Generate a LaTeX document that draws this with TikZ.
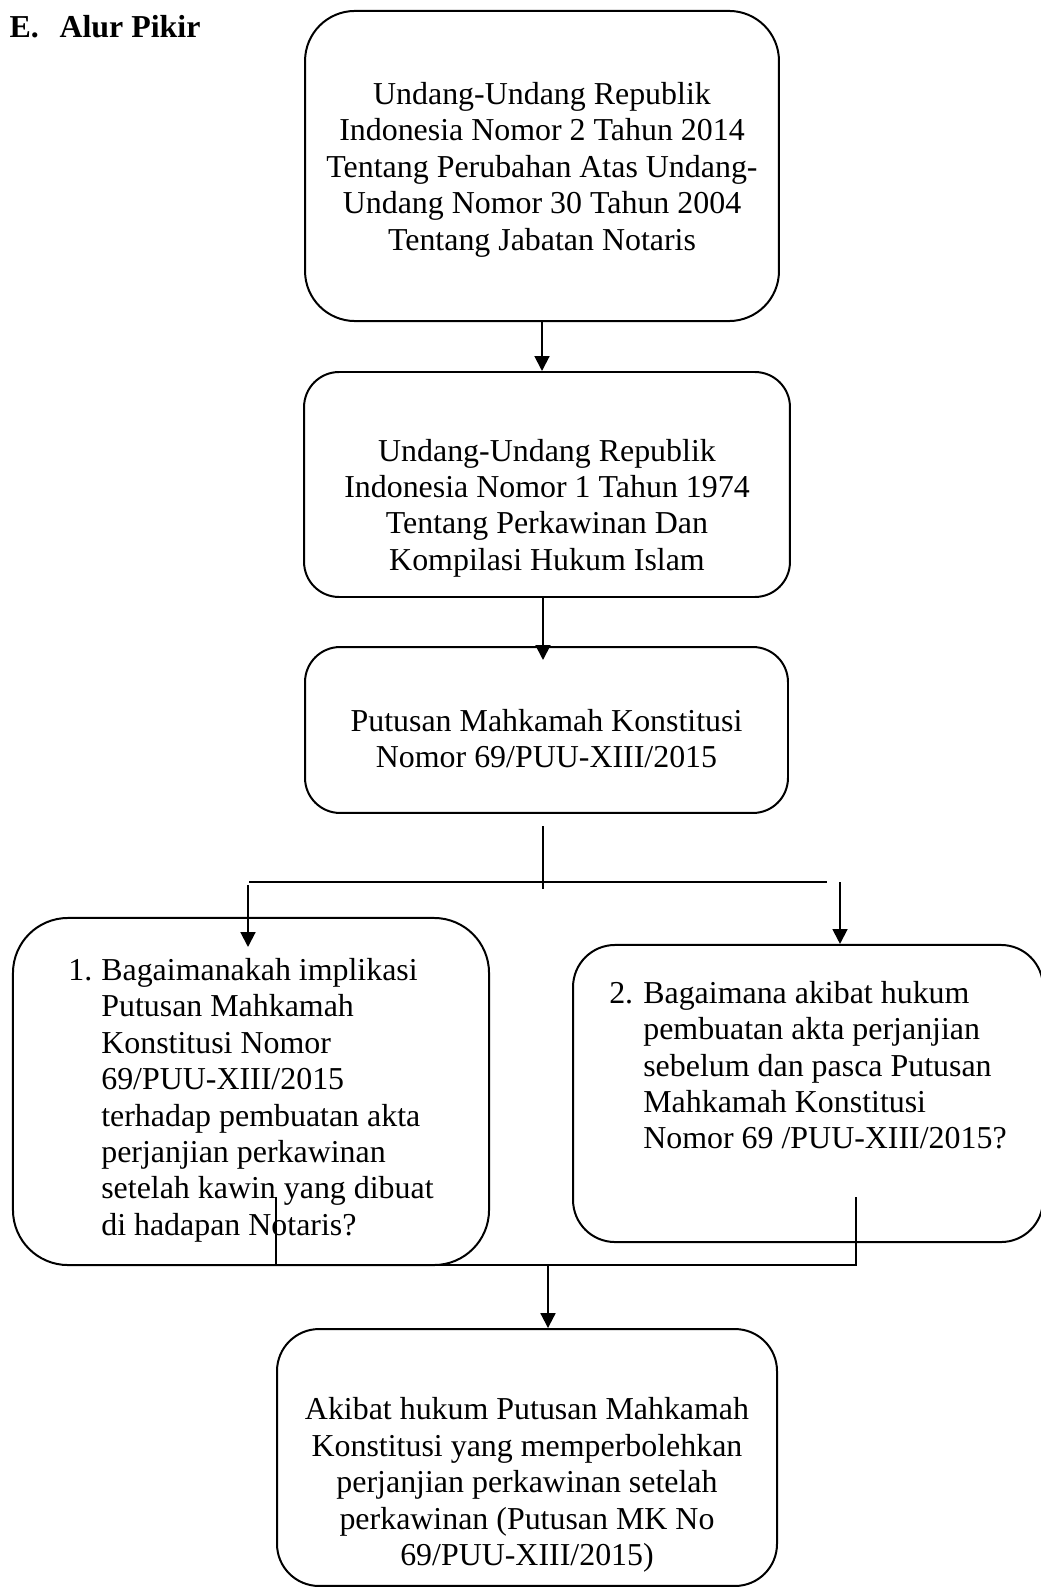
\documentclass[tikz,border=0pt]{standalone}
\usepackage{fontspec}
\setmainfont{Liberation Serif}
\usetikzlibrary{arrows.meta}
% lines of a box, shifted up/down inside it
\newcommand{\boxlines}[3][c]{\raisebox{#2}[\height][\depth]{\begin{tabular}{@{}#1@{}}#3\end{tabular}}}

\begin{document}
\begin{tikzpicture}[x=0.376pt,y=-0.376pt,
  every node/.style={font=\fontsize{12}{13.7}\selectfont},
  box/.style={draw,line width=0.75pt,inner sep=0pt},
  link/.style={line width=0.75pt},
  arr/.style={line width=0.75pt,-{Triangle[width=5.6pt,length=5.6pt]}}]
  \useasboundingbox (0,0) rectangle (1040,1587);
  % judul
  \node[anchor=base west,inner sep=0pt,font=\fontsize{12}{13.7}\selectfont\bfseries] (judul) at (9,38) {\makebox[18.8pt][l]{E.}Alur Pikir};
  % kotak
  \node[box,rounded corners=18.8pt,minimum width=178.2pt,minimum height=116.6pt] (uujn) at (542,166)
    {\boxlines{-1.5pt}{Undang-Undang Republik\\Indonesia Nomor 2 Tahun 2014\\Tentang Perubahan Atas Undang-\\Undang Nomor 30 Tahun 2004\\Tentang Jabatan Notaris}};
  \node[box,rounded corners=13.2pt,minimum width=182.7pt,minimum height=84.6pt] (uup) at (547,484.5)
    {\boxlines{-9pt}{Undang-Undang Republik\\Indonesia Nomor 1 Tahun 1974\\Tentang Perkawinan Dan\\Kompilasi Hukum Islam}};
  \node[box,rounded corners=13.2pt,minimum width=181.6pt,minimum height=62.4pt] (putusan) at (546.5,730)
    {\boxlines{-4.5pt}{Putusan Mahkamah Konstitusi\\Nomor 69/PUU-XIII/2015}};
  \node[box,rounded corners=20.7pt,minimum width=179pt,minimum height=130.5pt] (rm1) at (251,1091.5)
    {\boxlines[l@{\hspace{3.4pt}}l]{-3.4pt}{1.&Bagaimanakah implikasi\\&Putusan Mahkamah\\&Konstitusi Nomor\\&69/PUU-XIII/2015\\&terhadap pembuatan akta\\&perjanjian perkawinan\\&setelah kawin yang dibuat\\&di hadapan Notaris?}};
  \node[box,rounded corners=15.8pt,minimum width=176.7pt,minimum height=111.7pt] (rm2) at (808,1093.5)
    {\boxlines[l@{\hspace{3.8pt}}l]{9.3pt}{2.&Bagaimana akibat hukum\\&pembuatan akta perjanjian\\&sebelum dan pasca Putusan\\&Mahkamah Konstitusi\\&Nomor 69 /PUU-XIII/2015?}};
  \node[box,rounded corners=15.8pt,minimum width=188pt,minimum height=96.6pt] (akibat) at (527,1457.5)
    {\boxlines{-10.5pt}{Akibat hukum Putusan Mahkamah\\Konstitusi yang memperbolehkan\\perjanjian perkawinan setelah\\perkawinan (Putusan MK No\\69/PUU-XIII/2015)}};
  % titik bantu
  \coordinate (tip2) at (543,660);
  \coordinate (forktop) at (543,826);
  \coordinate (forkbot) at (543,889);
  \coordinate (hleft) at (249,882);
  \coordinate (hright) at (827,882);
  \coordinate (q1) at (248,885);
  \coordinate (q1tip) at (248,947);
  \coordinate (q2) at (840,882);
  \coordinate (j1) at (276,1197);
  \coordinate (j2) at (856,1197);
  \coordinate (join) at (548,1265);
  % panah
  \draw[arr] (uujn.south) -- (uujn.south |- uup.north);
  \draw[arr] (tip2 |- uup.south) -- (tip2);
  \draw[link] (forktop) -- (forkbot);
  \draw[link] (hleft) -- (hright);
  \draw[arr] (q1) -- (q1tip);
  \draw[arr] (q2) -- (q2 |- rm2.north);
  \draw[link] (j1) -- (j1 |- join) -- (j2 |- join) -- (j2);
  \draw[arr] (join) -- (join |- akibat.north);
\end{tikzpicture}
\end{document}
